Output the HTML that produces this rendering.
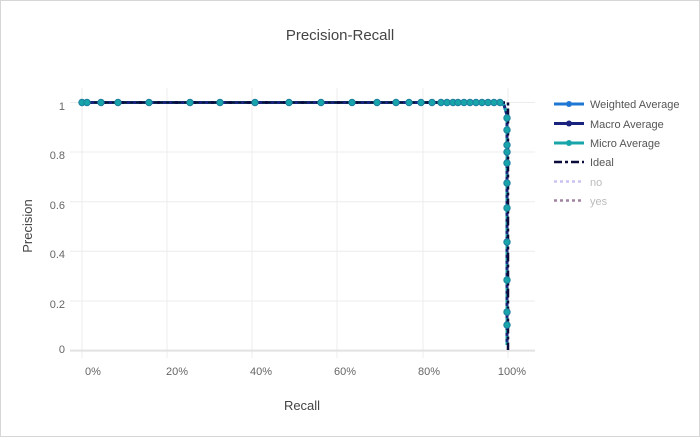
<!DOCTYPE html>
<html><head><meta charset="utf-8"><style>
html,body{margin:0;padding:0;background:#fff}
svg{display:block;font-family:"Liberation Sans",sans-serif}
</style></head><body>
<svg width="700" height="437" viewBox="0 0 700 437" xmlns="http://www.w3.org/2000/svg">
<rect x="0.5" y="0.5" width="699" height="436" fill="#fff" stroke="#d6d6d6"/>
<text x="340" y="40" font-size="15" fill="#444" text-anchor="middle">Precision-Recall</text>
<g stroke="#ececec" stroke-width="1">
<line x1="82" y1="88" x2="82" y2="358"/><line x1="167" y1="88" x2="167" y2="358"/><line x1="252" y1="88" x2="252" y2="358"/><line x1="337" y1="88" x2="337" y2="358"/><line x1="423" y1="88" x2="423" y2="358"/><line x1="508" y1="88" x2="508" y2="358"/>
<line x1="70" y1="102.5" x2="535" y2="102.5"/><line x1="70" y1="152" x2="535" y2="152"/><line x1="70" y1="201.7" x2="535" y2="201.7"/><line x1="70" y1="251.3" x2="535" y2="251.3"/><line x1="70" y1="301" x2="535" y2="301"/>
</g>
<line x1="70" y1="350.6" x2="535" y2="350.6" stroke="#e2e2e2" stroke-width="2"/>
<g font-size="11" fill="#666" text-anchor="end">
<text x="65" y="110">1</text><text x="65" y="159">0.8</text><text x="65" y="209">0.6</text><text x="65" y="258">0.4</text><text x="65" y="308">0.2</text><text x="65" y="353">0</text>
</g>
<g font-size="11" fill="#666" text-anchor="middle">
<text x="93" y="375">0%</text><text x="177" y="375">20%</text><text x="261" y="375">40%</text><text x="345" y="375">60%</text><text x="429" y="375">80%</text><text x="512" y="375">100%</text>
</g>
<text x="302" y="410" font-size="13" fill="#444" text-anchor="middle">Recall</text>
<text transform="translate(32,226) rotate(-90)" font-size="13" fill="#444" text-anchor="middle">Precision</text>
<polyline points="82,102.5 500,102.5 504,105 507,115 507,345" fill="none" stroke="#1f77d4" stroke-width="3"/>
<polyline points="82,102.5 500,102.5 504,105 507,115 507,345" fill="none" stroke="#1a237e" stroke-width="3"/>
<polyline points="82,102.5 500,102.5 504,105 507,115 507,345" fill="none" stroke="#17a5a9" stroke-width="3" stroke-dasharray="3,3"/>
<polyline points="82,102.5 508,102.5 508,350" fill="none" stroke="#0b0b3b" stroke-width="2.5" stroke-dasharray="9,3,3,3"/>
<g fill="#17a5a9" stroke="#1b7fa0" stroke-width="1">
<circle cx="82" cy="102.5" r="3.2"/><circle cx="87" cy="102.5" r="3.2"/><circle cx="101" cy="102.5" r="3.2"/><circle cx="118" cy="102.5" r="3.2"/><circle cx="149" cy="102.5" r="3.2"/><circle cx="190" cy="102.5" r="3.2"/><circle cx="220" cy="102.5" r="3.2"/><circle cx="255" cy="102.5" r="3.2"/><circle cx="289" cy="102.5" r="3.2"/><circle cx="321" cy="102.5" r="3.2"/><circle cx="352" cy="102.5" r="3.2"/><circle cx="377" cy="102.5" r="3.2"/><circle cx="396" cy="102.5" r="3.2"/><circle cx="409" cy="102.5" r="3.2"/><circle cx="421" cy="102.5" r="3.2"/><circle cx="432" cy="102.5" r="3.2"/><circle cx="441" cy="102.5" r="3.2"/><circle cx="447" cy="102.5" r="3.2"/><circle cx="453" cy="102.5" r="3.2"/><circle cx="458" cy="102.5" r="3.2"/><circle cx="464" cy="102.5" r="3.2"/><circle cx="470" cy="102.5" r="3.2"/><circle cx="476" cy="102.5" r="3.2"/><circle cx="482" cy="102.5" r="3.2"/><circle cx="488" cy="102.5" r="3.2"/><circle cx="494" cy="102.5" r="3.2"/><circle cx="500" cy="102.5" r="3.2"/>
<circle cx="507" cy="118" r="3.2"/><circle cx="507" cy="130" r="3.2"/><circle cx="507" cy="145" r="3.2"/><circle cx="507" cy="152" r="3.2"/><circle cx="507" cy="163" r="3.2"/><circle cx="507" cy="183" r="3.2"/><circle cx="507" cy="208" r="3.2"/><circle cx="507" cy="242" r="3.2"/><circle cx="507" cy="280" r="3.2"/><circle cx="507" cy="312" r="3.2"/><circle cx="507" cy="325" r="3.2"/>
</g>
<g font-size="11" fill="#555">
<line x1="554" y1="104" x2="584" y2="104" stroke="#1f77d4" stroke-width="3"/><circle cx="569" cy="104" r="3" fill="#1f77d4"/><text x="590" y="108">Weighted Average</text>
<line x1="554" y1="123.5" x2="584" y2="123.5" stroke="#1a237e" stroke-width="3"/><circle cx="569" cy="123.5" r="3" fill="#1a237e"/><text x="590" y="128">Macro Average</text>
<line x1="554" y1="143" x2="584" y2="143" stroke="#17a5a9" stroke-width="3"/><circle cx="569" cy="143" r="3" fill="#17a5a9"/><text x="590" y="147">Micro Average</text>
<line x1="554" y1="162" x2="584" y2="162" stroke="#0b0b3b" stroke-width="2.5" stroke-dasharray="8,3,3,3"/><text x="590" y="166">Ideal</text>
<line x1="554" y1="181.5" x2="584" y2="181.5" stroke="#c9c3f3" stroke-width="2.5" stroke-dasharray="3,3"/><text x="590" y="186" fill="#bbb">no</text>
<line x1="554" y1="200.5" x2="584" y2="200.5" stroke="#a0849f" stroke-width="2.5" stroke-dasharray="3,3"/><text x="590" y="205" fill="#bbb">yes</text>
</g>
</svg>
</body></html>
